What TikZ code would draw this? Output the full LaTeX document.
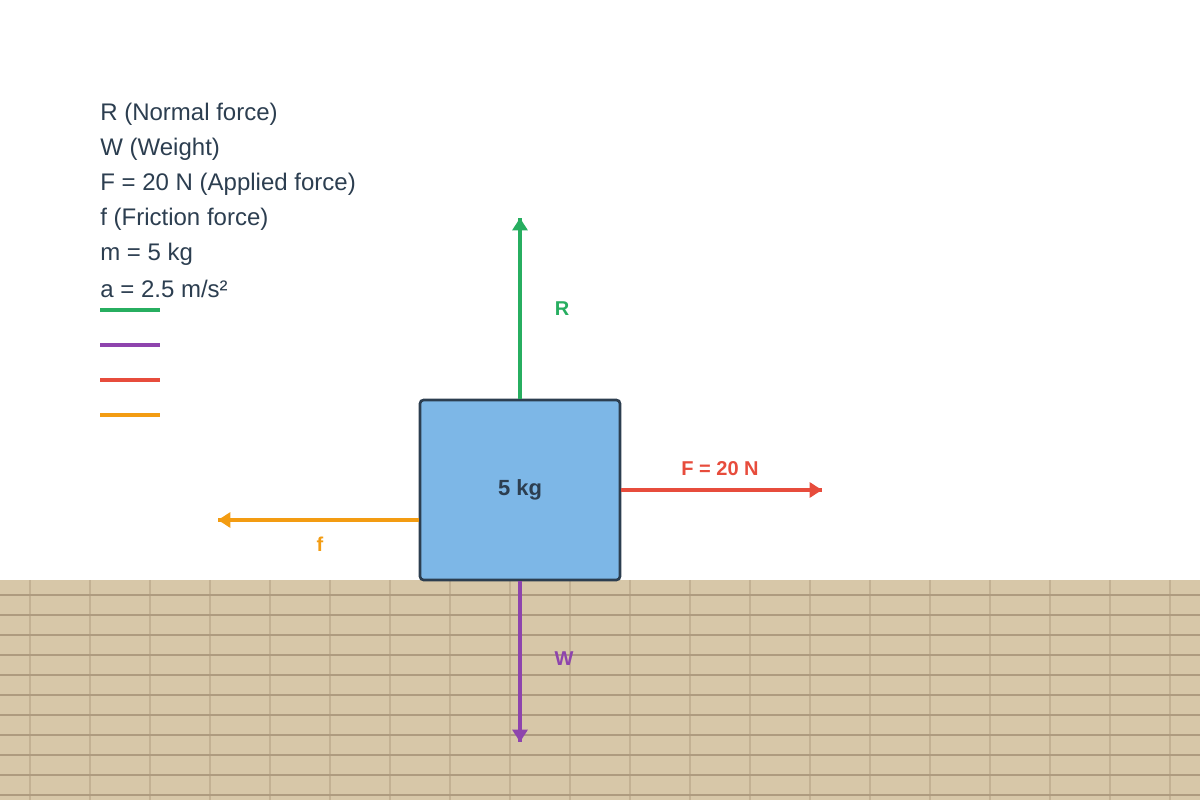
\documentclass[tikz,border=0pt]{standalone}
\usepackage{fontspec}
\setmainfont{Liberation Sans}
\usetikzlibrary{arrows.meta}
\usetikzlibrary{decorations.markings}
\usetikzlibrary{positioning}
\definecolor{textdark}{HTML}{2C3E50}
\definecolor{boxblue}{HTML}{7DB7E7}
\definecolor{rgreen}{HTML}{27AE60}
\definecolor{wpurple}{HTML}{8E44AD}
\definecolor{fred}{HTML}{E74C3C}
\definecolor{forange}{HTML}{F39C12}
\definecolor{groundfill}{HTML}{D7C7A8}
\definecolor{groundline}{HTML}{AE9B7F}
\definecolor{groundvline}{HTML}{C3B193}
\tikzset{force/.style = {line width=2.2pt,
                         decoration={markings,
                                     mark=at position 1 with {\arrow{Triangle[width=8.5pt, length=7pt]}}},
                         postaction={decorate}}}
\tikzset{block/.style = {draw=textdark, fill=boxblue, line width=1.5pt, rounded corners=2pt,
                         minimum width=4cm, minimum height=3.6cm, inner sep=0,
                         text=textdark, font=\bfseries\fontsize{12.5}{15}\selectfont}}
\tikzset{flabel/.style = {inner sep=0, font=\bfseries\fontsize{11.4}{13}\selectfont}}
\tikzset{legend/.style = {anchor=west, inner sep=0, text=textdark,
                          font=\fontsize{13.66}{16}\selectfont}}
\tikzset{legendline/.style = {line width=2pt}}

\begin{document}
\begin{tikzpicture}[x=0.02cm, y=-0.02cm]
      \useasboundingbox (0,0) rectangle (1200,800);

      % ground
      \fill [groundfill] (0,580) rectangle (1200,800);
      \foreach \x in {30,90,...,1170}
        \draw [groundvline, line width=0.8pt] (\x,580) -- (\x,800);
      \foreach \y in {595,615,...,795}
        \draw [groundline, line width=1pt] (0,\y) -- (1200,\y);

      % legend
      \node (lR) at (100,114) [legend] {R (Normal force)};
      \node (lW) at (100,149) [legend] {W (Weight)};
      \node (lF) at (100,184) [legend] {F = 20 N (Applied force)};
      \node (lf) at (100,219) [legend] {f (Friction force)};
      \node (lm) at (100,254) [legend] {m = 5 kg};
      \node (la) at (100,289) [legend] {a = 2.5 m/s²};

      \draw [legendline, rgreen] (100,310) -- (160,310);
      \draw [legendline, wpurple] (100,345) -- (160,345);
      \draw [legendline, fred] (100,380) -- (160,380);
      \draw [legendline, forange] (100,415) -- (160,415);

      % block and forces
      \node (block) at (520,490) [block] {5 kg};

      \coordinate (Rtip) at (520,218);
      \coordinate (Wtip) at (520,742);
      \coordinate (Ftip) at (822,490);
      \coordinate (ftip) at (218,520);

      \draw [force, rgreen] (block.north) -- (Rtip);
      \draw [force, wpurple] (block.south) -- (Wtip);
      \draw [force, fred] (block.east) -- (Ftip);
      \draw [force, forange] (block.west |- ftip) -- (ftip);

      \node (Rlabel) at (562,309) [flabel, text=rgreen] {R};
      \node (Wlabel) at (564,659) [flabel, text=wpurple] {W};
      \node (Flabel) at (720,469) [flabel, text=fred] {F = 20 N};
      \node (flabel) at (320,544) [flabel, text=forange] {f};
    \end{tikzpicture}
\end{document}
